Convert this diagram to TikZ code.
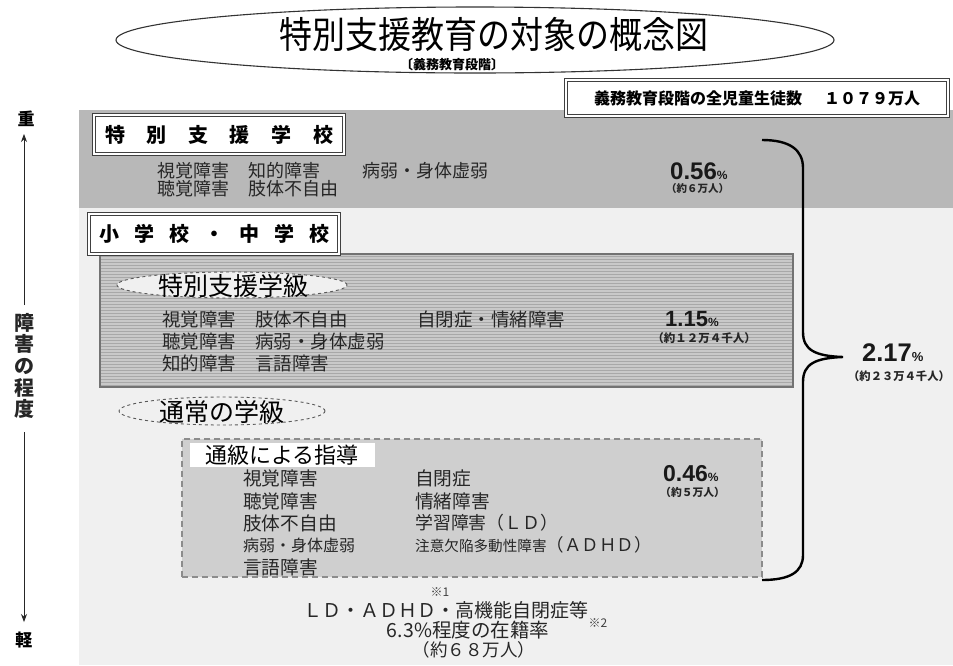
\documentclass[tikz,border=0pt]{standalone}
\usepackage{fontspec}
\usepackage{graphicx}
\setmainfont{Noto Sans CJK JP}
\newfontfamily\arialfont{Liberation Sans}
\usetikzlibrary{patterns,shapes.geometric,arrows.meta}
\newcommand\fsz[1]{\fontsize{#1}{#1}\selectfont}
\newcommand\gp[1]{\hspace{#1pt}}
\begin{document}
\begin{tikzpicture}[x=1pt,y=-1pt,
  lbl/.style={inner sep=0pt,anchor=west,text=black!85},
  ctr/.style={inner sep=0pt,text=black},
  dblbox/.style={draw=black!75,double=white,double distance=1.6pt,line width=1.3pt,fill=white,inner sep=0pt},
  dashell/.style={ellipse,draw=black!65,dashed,line width=0.9pt,fill=white!94!black,inner sep=0pt},
  num/.style={inner sep=0pt,anchor=west,font=\arialfont\bfseries,text=black!90},
  sub/.style={inner sep=0pt,font=\bfseries,text=black!85},
  axis/.style={line width=0.9pt,draw=black!85},
]
\useasboundingbox (0,0) rectangle (953,665);
\fill[white] (0,0) rectangle (953,665);
% backgrounds
\fill[black!6] (79,208) rectangle (953,665);
\fill[black!28] (79,110) rectangle (953,208);

% title
\node[draw=black!80,line width=1.1pt,ellipse,minimum width=718pt,minimum height=66pt,inner sep=0pt] (titleEll) at (475,40) {};
\node[ctr] (title) at (494,34) {\fsz{33}\scalebox{1}[1.12]{特別支援教育の対象の概念図}};
\node[ctr] (subtitle) at (452,65) {\fsz{13}\bfseries 〔義務教育段階〕};

% total
\node[dblbox,minimum width=382pt,minimum height=36pt] (total) at (757,98) {\fsz{16}\bfseries 義務教育段階の全児童生徒数\gp{22}１０７９万人};

% special school
\node[dblbox,minimum width=250pt,minimum height=39pt] (sschool) at (219,134.5) {\fsz{20}\bfseries 特\gp{21.6}別\gp{21.6}支\gp{21.6}援\gp{21.6}学\gp{21.6}校};
\node[lbl] (b1) at (157,171) {\fsz{18}視覚障害};
\node[lbl] (b2) at (157,189) {\fsz{18}聴覚障害};
\node[lbl] (b3) at (248,171) {\fsz{18}知的障害};
\node[lbl] (b4) at (248,189) {\fsz{18}肢体不自由};
\node[lbl] (b5) at (362,171) {\fsz{18}病弱・身体虚弱};
\node[num] (p1) at (670,171) {\fsz{24}0.56\fsz{12}\%};
\node[sub,anchor=west] (q1) at (666,189) {\fsz{10.5}（約６万人）};

% special class
\node[preaction={fill=black!21},pattern=horizontal lines,pattern color=black!34,draw=black!55,line width=1.4pt,minimum width=693pt,minimum height=133pt,inner sep=0pt] (sclass) at (446.5,320.5) {};
\node[dblbox,minimum width=250pt,minimum height=40pt] (eschool) at (214,234) {\fsz{20}\bfseries 小\gp{15}学\gp{15}校\gp{15}・\gp{15}中\gp{15}学\gp{15}校};
\node[dashell,minimum width=230pt,minimum height=26pt] (sclassEll) at (232,285) {};
\node[ctr] (sclassT) at (233,286) {\fsz{25}特別支援学級};
\node[lbl] (c1) at (162,319) {\fsz{18.5}視覚障害};
\node[lbl] (c2) at (162,341) {\fsz{18.5}聴覚障害};
\node[lbl] (c3) at (162,363) {\fsz{18.5}知的障害};
\node[lbl] (c4) at (255,319) {\fsz{18.5}肢体不自由};
\node[lbl] (c5) at (255,341) {\fsz{18.5}病弱・身体虚弱};
\node[lbl] (c6) at (255,363) {\fsz{18.5}言語障害};
\node[lbl] (c7) at (417,319) {\fsz{18.5}自閉症・情緒障害};
\node[num] (p2) at (665,319) {\fsz{22}1.15\fsz{12}\%};
\node[sub] (q2) at (704,338) {\fsz{11.5}（約１２万４千人）};

% regular class
\node[dashell,minimum width=206pt,minimum height=28pt] (rclassEll) at (222,411) {};
\node[ctr] (rclassT) at (222,412) {\fsz{25}通常の学級};

% tsukyu
\node[draw=black!45,dash pattern=on 6pt off 4pt,line width=1.2pt,fill=black!19,minimum width=580pt,minimum height=138pt,inner sep=0pt] (tsukyu) at (472,508) {};
\node[fill=white,minimum width=185pt,minimum height=24pt,inner sep=0pt] (tlabel) at (282,455) {\fsz{22}通級による指導};
\node[lbl] (d1) at (243,478) {\fsz{18.7}視覚障害};
\node[lbl] (d2) at (243,501) {\fsz{18.7}聴覚障害};
\node[lbl] (d3) at (243,523) {\fsz{18.7}肢体不自由};
\node[lbl] (d4) at (243,545) {\fsz{16}病弱・身体虚弱};
\node[lbl] (d5) at (243,567) {\fsz{18.7}言語障害};
\node[lbl] (e1) at (415,478) {\fsz{18.7}自閉症};
\node[lbl] (e2) at (415,501) {\fsz{18.7}情緒障害};
\node[lbl] (e3) at (415,523) {\fsz{17.9}学習障害（ＬＤ）};
\node[lbl] (e4) at (415,545) {\fsz{14.6}注意欠陥多動性障害\fsz{17.5}（ＡＤＨＤ）};
\node[num] (p3) at (663,474) {\fsz{23}0.46\fsz{12}\%};
\node[sub,anchor=west] (q3) at (660,492) {\fsz{10.8}（約５万人）};

% brace
\draw[line width=2.4pt] (762,140) .. controls (790,140) and (803,150) .. (803,168) -- (803,332) .. controls (803,350) and (815,356) .. (843,357) .. controls (815,358) and (803,364) .. (803,382) -- (803,555) .. controls (803,572) and (790,580) .. (762,580);
\node[num] (p4) at (862,353) {\fsz{25.5}2.17\fsz{13}\%};
\node[sub] (q4) at (899,376) {\fsz{11.3}（約２３万４千人）};

% left axis
\node[ctr,font=\bfseries] (heavy) at (26,119) {\fsz{17}重};
\node[ctr,font=\bfseries] (light) at (24,640) {\fsz{17}軽};
\node[ctr,align=center,font=\fsz{20}\bfseries,text=black!85] (deg) at (24,366) {障\\[1.6pt]害\\[1.6pt]の\\[1.6pt]程\\[1.6pt]度};
\coordinate (upStart) at (24,305);
\coordinate (upTip) at (24,134);
\coordinate (dnStart) at (24,432);
\coordinate (dnTip) at (24,622);
\draw[axis,-{Stealth[length=8pt,width=6pt]}] (upStart) -- (upTip);
\draw[axis,-{Stealth[length=8pt,width=6pt]}] (dnStart) -- (dnTip);

% bottom text
\node[ctr,text=black!85] (ld) at (446,610) {\fsz{19}ＬＤ・ＡＤＨＤ・高機能自閉症等};
\node[ctr,text=black!75] (n1) at (440,592) {\fsz{12}※1};
\node[ctr,text=black!85] (rate) at (468,630) {\fsz{19.5}6.3\%程度の在籍率};
\node[ctr,text=black!75] (n2) at (598,623) {\fsz{12}※2};
\node[ctr,text=black!85] (cnt) at (474,650) {\fsz{17.5}（約６８万人）};
\end{tikzpicture}
\end{document}
